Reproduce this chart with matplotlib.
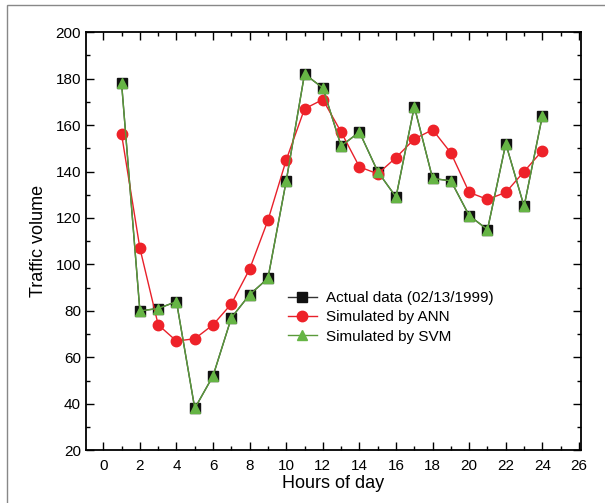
import numpy as np
import matplotlib.pyplot as plt
from matplotlib.patches import Rectangle
from matplotlib.ticker import MultipleLocator

plt.rcParams['font.family'] = ['Liberation Sans', 'DejaVu Sans']

hours = np.arange(1, 25)
actual = [178, 80, 81, 84, 38, 52, 77, 87, 94, 136, 182, 176,
          151, 157, 140, 129, 168, 137, 136, 121, 115, 152, 125, 164]
ann = [156, 107, 74, 67, 68, 74, 83, 98, 119, 145, 167, 171,
       157, 142, 139, 146, 154, 158, 148, 131, 128, 131, 140, 149]
svm = [178, 80, 81, 84, 38, 52, 77, 87, 94, 136, 182, 176,
       151, 157, 140, 129, 168, 137, 136, 121, 115, 152, 125, 164]

fig = plt.figure(figsize=(6.05, 5.03), dpi=100)
# thin grey frame around the figure
fig.patches.append(Rectangle((7 / 605, -0.05), 1.2, 1 - 5 / 503 + 0.05,
                             transform=fig.transFigure, fill=False,
                             edgecolor='#888888', linewidth=1.0))

ax = fig.add_axes([0.142, 0.105, 0.818, 0.831])
ax.plot(hours, actual, color='#333333', lw=1.0, marker='s', ms=6.5,
        mfc='#111111', mec='#111111', label='Actual data (02/13/1999)')
ax.plot(hours, ann, color='#e8202a', lw=1.0, marker='o', ms=7.5,
        mfc='#ee2229', mec='#ee2229', label='Simulated by ANN')
ax.plot(hours, svm, color='#5a9a3a', lw=1.0, marker='^', ms=7.5,
        mfc='#66b545', mec='#66b545', label='Simulated by SVM')

ax.set_xlim(-0.95, 26.1)
ax.set_ylim(20, 200)
ax.xaxis.set_major_locator(MultipleLocator(2))
ax.xaxis.set_minor_locator(MultipleLocator(1))
ax.yaxis.set_major_locator(MultipleLocator(20))
ax.yaxis.set_minor_locator(MultipleLocator(10))
ax.tick_params(which='both', direction='in', top=True, right=True,
               labelsize=11, width=1.0)
ax.tick_params(which='major', length=6)
ax.tick_params(which='minor', length=3)
ax.tick_params(axis='x', pad=6)
for s in ax.spines.values():
    s.set_linewidth(1.3)

ax.set_xlabel('Hours of day', fontsize=13, labelpad=2)
ax.set_ylabel('Traffic volume', fontsize=13, labelpad=6)

ax.legend(loc='center left', bbox_to_anchor=(0.395, 0.318), frameon=False,
          fontsize=11, handlelength=1.9, handletextpad=0.6,
          labelspacing=0.35, borderaxespad=0)

fig.savefig('out.png', dpi=100)
